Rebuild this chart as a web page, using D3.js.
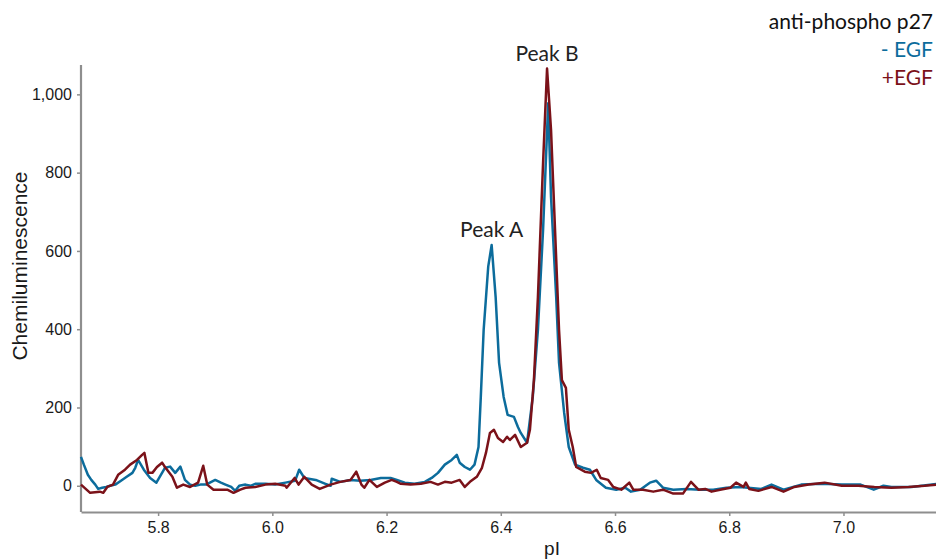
<!DOCTYPE html>
<html>
<head>
<meta charset="utf-8">
<script src="https://cdn.jsdelivr.net/npm/d3@7"></script>
<style>
  body { margin: 0; background: #fff; }
  svg { display: block; }
</style>
</head>
<body>
<div id="chart"></div>
<script>
// pI positions and chemiluminescence
const minusPI = [5.665, 5.670, 5.677, 5.683, 5.690, 5.695, 5.702, 5.709, 5.716, 5.725, 5.735, 5.745, 5.755, 5.760, 5.765, 5.775, 5.786, 5.797, 5.812, 5.821, 5.830, 5.839, 5.847, 5.856, 5.865, 5.874, 5.884, 5.900, 5.910, 5.918, 5.928, 5.935, 5.942, 5.953, 5.962, 5.970, 5.988, 6.005, 6.023, 6.040, 6.047, 6.056, 6.076, 6.093, 6.102, 6.104, 6.119, 6.137, 6.154, 6.172, 6.190, 6.207, 6.218, 6.232, 6.249, 6.267, 6.279, 6.290, 6.302, 6.314, 6.323, 6.328, 6.337, 6.346, 6.354, 6.361, 6.365, 6.370, 6.378, 6.384, 6.391, 6.397, 6.405, 6.412, 6.423, 6.430, 6.435, 6.446, 6.456, 6.465, 6.474, 6.483, 6.488, 6.497, 6.502, 6.511, 6.519, 6.530, 6.544, 6.556, 6.567, 6.584, 6.602, 6.618, 6.628, 6.644, 6.661, 6.672, 6.684, 6.702, 6.725, 6.749, 6.772, 6.795, 6.819, 6.856, 6.874, 6.895, 6.926, 6.961, 6.997, 7.030, 7.053, 7.070, 7.084, 7.119, 7.163];
const minusVal = [74, 54, 28, 15, 3, -8, -5, -3, 0, 3, 13, 23, 33, 46, 66, 41, 20, 8, 46, 49, 33, 49, 15, 3, 0, 3, 3, 15, 8, 3, -3, -13, 0, 3, 0, 5, 5, 3, 8, 13, 41, 20, 15, 5, 0, 18, 10, 15, 13, 15, 20, 20, 15, 8, 5, 10, 20, 33, 54, 66, 79, 59, 48, 41, 54, 99, 227, 398, 560, 615, 482, 314, 227, 181, 176, 150, 135, 110, 227, 398, 653, 977, 737, 482, 314, 186, 99, 54, 46, 41, 15, -5, -10, -5, -15, -10, 8, 13, -5, -10, -8, -10, -10, -5, -3, -8, 3, -10, 3, 5, 3, 3, -10, 0, -3, -3, 5];

const plusPI = [5.665, 5.681, 5.698, 5.704, 5.711, 5.721, 5.730, 5.742, 5.751, 5.763, 5.772, 5.776, 5.783, 5.790, 5.798, 5.807, 5.812, 5.825, 5.833, 5.844, 5.856, 5.870, 5.879, 5.886, 5.897, 5.921, 5.932, 5.944, 5.953, 5.970, 5.988, 6.005, 6.023, 6.025, 6.039, 6.046, 6.056, 6.069, 6.083, 6.102, 6.119, 6.137, 6.147, 6.156, 6.161, 6.170, 6.183, 6.197, 6.209, 6.218, 6.225, 6.242, 6.260, 6.277, 6.290, 6.302, 6.314, 6.328, 6.337, 6.346, 6.358, 6.367, 6.374, 6.381, 6.388, 6.395, 6.404, 6.411, 6.416, 6.425, 6.435, 6.446, 6.451, 6.458, 6.465, 6.474, 6.481, 6.488, 6.495, 6.502, 6.507, 6.514, 6.519, 6.526, 6.532, 6.547, 6.558, 6.568, 6.575, 6.588, 6.597, 6.611, 6.625, 6.632, 6.649, 6.667, 6.684, 6.702, 6.719, 6.733, 6.746, 6.758, 6.769, 6.784, 6.802, 6.812, 6.825, 6.829, 6.835, 6.851, 6.874, 6.895, 6.914, 6.939, 6.967, 6.997, 7.026, 7.054, 7.084, 7.114, 7.142, 7.163];
const plusVal = [3, -18, -15, -18, -3, 3, 28, 41, 54, 66, 79, 84, 33, 33, 48, 59, 48, 23, -5, 3, -3, 8, 51, 3, -10, -10, -18, -10, -5, -3, 3, 5, 0, -5, 20, 3, 23, 3, -8, 3, 10, 15, 36, 3, -5, 15, -3, 8, 15, 10, 5, 3, 5, 10, 3, 10, 8, 15, -3, 10, 23, 46, 84, 135, 143, 122, 112, 125, 117, 130, 99, 110, 143, 270, 482, 824, 1066, 908, 653, 398, 270, 250, 143, 99, 48, 36, 33, 41, 20, 15, -3, -10, 8, -10, -10, -15, -10, -20, -20, 10, -10, -8, -15, -10, -5, 8, -3, 8, -8, -13, -3, -15, -3, 3, 8, 0, 0, -3, -5, -3, 0, 3];

const xTicks = [5.8, 6.0, 6.2, 6.4, 6.6, 6.8, 7.0];
const yTicks = [0, 200, 400, 600, 800, 1000];
const legendLabels = ["anti-phospho p27", "- EGF", "+EGF"];
const peakLabels = [{ name: "Peak A", pI: 6.384, val: 615 }, { name: "Peak B", pI: 6.481, val: 1066 }];

const width = 936, height = 559;
const plotLeft = 81, plotRight = 936, plotTop = 65, plotBottom = 512;
const blue = "#0c6c9c", red = "#7b1219", axisGrey = "#8e8e8e";

const x = d3.scaleLinear().domain([5.665, 7.162]).range([plotLeft, plotRight]);
const y = d3.scaleLinear().domain([-67, 1075]).range([plotBottom, plotTop]);

const svg = d3.select("#chart").append("svg")
    .attr("width", width)
    .attr("height", height);

// axes
const xAxis = svg.append("g")
    .attr("transform", `translate(0, ${plotBottom})`)
    .call(d3.axisBottom(x).tickValues(xTicks).tickFormat(d3.format(".1f")).tickSize(4).tickSizeOuter(0).tickPadding(6));
const yAxis = svg.append("g")
    .attr("transform", `translate(${plotLeft}, 0)`)
    .call(d3.axisLeft(y).tickValues(yTicks).tickFormat(d3.format(",")).tickSize(4).tickSizeOuter(0).tickPadding(5));

for (const ax of [xAxis, yAxis]) {
    ax.select(".domain").attr("stroke", axisGrey).attr("stroke-width", 2.2);
    ax.selectAll(".tick line").attr("stroke", axisGrey).attr("stroke-width", 1.5);
    ax.selectAll(".tick text")
        .attr("font-family", "Liberation Sans, Arial, sans-serif")
        .attr("font-size", 16)
        .attr("fill", "#1a1a1a");
}
// domain line of the y axis runs all the way down to the x axis
yAxis.select(".domain").attr("d", `M0,${plotTop}V${plotBottom}`);

svg.append("text")
    .attr("transform", "translate(27, 266) rotate(-90)")
    .attr("text-anchor", "middle")
    .attr("font-family", "Liberation Sans, Arial, sans-serif")
    .attr("font-size", 21)
    .attr("fill", "#1a1a1a")
    .text("Chemiluminescence");

svg.append("text")
    .attr("x", 552)
    .attr("y", 555)
    .attr("text-anchor", "middle")
    .attr("font-family", "Liberation Sans, Arial, sans-serif")
    .attr("font-size", 19)
    .attr("fill", "#1a1a1a")
    .text("pI");

// traces
const line = d3.line()
    .x((d) => x(d[0]))
    .y((d) => y(d[1]));

const series = [
    { pts: d3.zip(minusPI, minusVal), color: blue },
    { pts: d3.zip(plusPI, plusVal), color: red },
];

svg.append("g")
    .selectAll("path")
    .data(series)
    .enter()
    .append("path")
    .attr("d", (s) => line(s.pts))
    .attr("fill", "none")
    .attr("stroke", (s) => s.color)
    .attr("stroke-width", 2.5)
    .attr("stroke-linejoin", "round");

// peak labels
svg.append("g")
    .selectAll("text")
    .data(peakLabels)
    .enter()
    .append("text")
    .attr("x", (d) => x(d.pI))
    .attr("y", (d) => y(d.val) - 8)
    .attr("text-anchor", "middle")
    .attr("font-family", "Lato, sans-serif")
    .attr("font-size", 21)
    .attr("fill", "#222")
    .text((d) => d.name);

// legend, top right
const legendColors = ["#111", blue, red];
svg.append("g")
    .selectAll("text")
    .data(legendLabels)
    .enter()
    .append("text")
    .attr("x", 933)
    .attr("y", (d, i) => 29 + i * 28)
    .attr("text-anchor", "end")
    .attr("font-family", "Lato, sans-serif")
    .attr("font-size", 21)
    .attr("fill", (d, i) => legendColors[i])
    .text((d) => d);
</script>
</body>
</html>
